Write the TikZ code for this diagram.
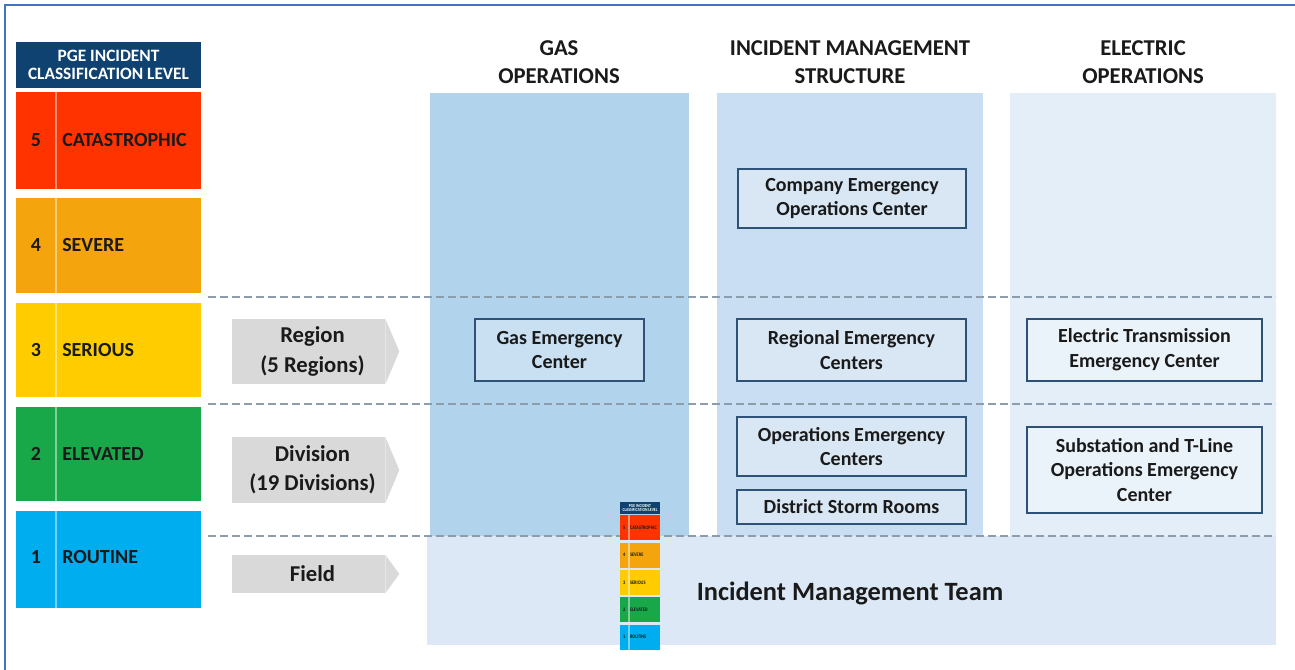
\documentclass[tikz,border=0pt]{standalone}
\usepackage{fontspec}
\setmainfont{Carlito}
\usetikzlibrary{calc}
\definecolor{navy}{HTML}{0F4270}
\definecolor{lvred}{HTML}{FF3300}
\definecolor{lvorange}{HTML}{F4A50E}
\definecolor{lvyellow}{HTML}{FFCC00}
\definecolor{lvgreen}{HTML}{18A84A}
\definecolor{lvblue}{HTML}{00AEEF}
\definecolor{ink}{HTML}{1A1A1A}
\definecolor{gascol}{HTML}{B1D3EC}
\definecolor{imscol}{HTML}{C9DEF2}
\definecolor{eleccol}{HTML}{E3EEF9}
\definecolor{bandcol}{HTML}{DCE8F5}
\definecolor{boxline}{HTML}{2E5276}
\definecolor{dashcol}{HTML}{8C9DAD}
\definecolor{arrowgray}{HTML}{D9D9D9}
\definecolor{framecol}{HTML}{4472C4}
\tikzset{
  x=0.75pt, y=-0.75pt,
  sz/.style 2 args={minimum width=#1*0.75pt, minimum height=#2*0.75pt},
  lvtext/.style={font=\fontsize{15}{16}\selectfont\bfseries, text=ink, inner sep=0},
  lvnum/.style={lvtext, anchor=center},
  lvlabel/.style={lvtext, anchor=west},
  colhead/.style={font=\fontsize{17}{21}\selectfont\bfseries, text=ink, align=center},
  ctrbox/.style={draw=boxline, line width=1.5pt, fill=white, fill opacity=0.3, text opacity=1,
    inner sep=0, align=center, text=ink, font=\fontsize{15}{18.5}\selectfont\bfseries},
  tierbody/.style={fill=arrowgray, inner sep=0, align=center, text=ink,
    font=\fontsize{17}{22}\selectfont\bfseries},
  tierline/.style={draw=dashcol, line width=1.6pt, dash pattern=on 6pt off 3pt},
  legend/.pic={
    \fill[navy] (0,0) rectangle (185,46);
    \node[font=\fontsize{13}{13.5}\selectfont\bfseries, text=white, align=center, inner sep=0] (-hdr) at (92.5,23) {PGE INCIDENT\\CLASSIFICATION LEVEL};
    \fill[lvred] (0,50) rectangle (185,147);
    \fill[lvorange] (0,156) rectangle (185,251);
    \fill[lvyellow] (0,261) rectangle (185,355);
    \fill[lvgreen] (0,365) rectangle (185,459);
    \fill[lvblue] (0,469) rectangle (185,566);
    \foreach \t/\b in {50/147,156/251,261/355,365/459,469/566}
      \draw[white, opacity=0.45, line width=1.5pt] (40,\t) -- (40,\b);
    \node[lvnum] (-n5) at (20,98.5) {5};
    \node[lvlabel] (-l5) at (46,98.5) {CATASTROPHIC};
    \node[lvnum] (-n4) at (20,203.5) {4};
    \node[lvlabel] (-l4) at (46,203.5) {SEVERE};
    \node[lvnum] (-n3) at (20,308) {3};
    \node[lvlabel] (-l3) at (46,308) {SERIOUS};
    \node[lvnum] (-n2) at (20,412) {2};
    \node[lvlabel] (-l2) at (46,412) {ELEVATED};
    \node[lvnum] (-n1) at (20,515) {1};
    \node[lvlabel] (-l1) at (46,515) {ROUTINE};
  }
}
\begin{document}
\begin{tikzpicture}
\useasboundingbox (0,0) rectangle (1295,670);
\fill[white] (0,0) rectangle (1295,670);
\draw[framecol, line width=1.2pt] (1295,5) -- (5,5) -- (5,670);

% legend
\pic (leg) at (16,42) {legend};

% columns
\fill[gascol] (430,93) rectangle (689,536);
\fill[imscol] (717,93) rectangle (983,536);
\fill[eleccol] (1010,93) rectangle (1276,536);
\fill[bandcol] (427,536) rectangle (1276,645);

% column headers
\node[colhead] (hgas) at (559,62) {GAS\\OPERATIONS};
\node[colhead] (hims) at (850,62) {INCIDENT MANAGEMENT\\STRUCTURE};
\node[colhead] (helec) at (1143,62) {ELECTRIC\\OPERATIONS};

% dashed tier lines
\coordinate (d1a) at (208,297); \coordinate (d1b) at (1276,297);
\coordinate (d2a) at (208,404); \coordinate (d2b) at (1276,404);
\coordinate (d3a) at (208,536); \coordinate (d3b) at (1276,536);
\draw[tierline] (d1a) -- (d1b);
\draw[tierline] (d2a) -- (d2b);
\draw[tierline] (d3a) -- (d3b);

% tier arrows
\node[tierbody, sz={153}{65}] (region) at (308.5,351.5) {\hspace*{6pt}Region\\\hspace*{6pt}(5 Regions)};
\fill[arrowgray] (region.north east) -- ($(region.east)+(14,0)$) -- (region.south east) -- cycle;
\node[tierbody, sz={153}{66}] (division) at (308.5,470) {\hspace*{6pt}Division\\\hspace*{6pt}(19 Divisions)};
\fill[arrowgray] (division.north east) -- ($(division.east)+(14,0)$) -- (division.south east) -- cycle;
\node[tierbody, sz={153}{38}] (field) at (308.5,574) {\hspace*{6pt}Field};
\fill[arrowgray] (field.north east) -- ($(field.east)+(14,0)$) -- (field.south east) -- cycle;

% centre boxes
\node[ctrbox, sz={228}{59}] (ceoc) at (852,198.5) {Company Emergency\\Operations Center};
\node[ctrbox, sz={169}{62}] (gec) at (559.5,350) {Gas Emergency\\Center};
\node[ctrbox, sz={229}{62}] (rec) at (851.5,350) {Regional Emergency\\Centers};
\node[ctrbox, sz={235}{62}] (etec) at (1144.5,350) {Electric Transmission\\Emergency Center};
\node[ctrbox, sz={229}{59}] (oec) at (851.5,446.5) {Operations Emergency\\Centers};
\node[ctrbox, sz={229}{34}] (dsr) at (851.5,507) {District Storm Rooms};
\node[ctrbox, sz={235}{86}] (stl) at (1144.5,470) {Substation and T-Line\\Operations Emergency\\Center};

\node[font=\fontsize{19.8}{22}\selectfont\bfseries, text=ink] (imt) at (850,593) {Incident Management Team};

% thumbnail of legend
\pic[xscale=0.2162, yscale=0.2615, transform shape] (thumb) at (620,502) {legend};
\end{tikzpicture}
\end{document}
